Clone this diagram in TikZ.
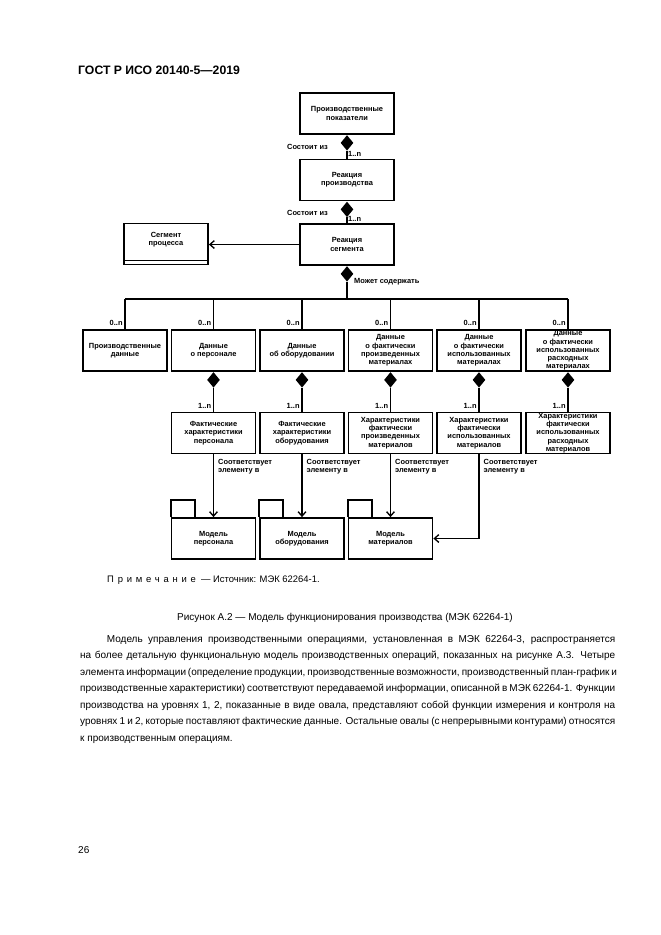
\documentclass[tikz,border=0pt]{standalone}
\usepackage{fontspec}
\setmainfont{Liberation Sans}
\usetikzlibrary{arrows.meta,shapes.geometric}
\begin{document}
\begin{tikzpicture}[x=0.9pt,y=-0.9pt,
  dfont/.style={font=\fontsize{6.7}{7.4}\selectfont\bfseries},
  box/.style={draw, line width=1.6pt, align=center, inner sep=0pt, minimum width=75.6pt, minimum height=36.9pt, dfont},
  cbox/.style={box, minimum width=84.6pt},
  dia/.style={diamond, fill=black, draw=none, inner sep=0pt, minimum width=11.5pt, minimum height=14pt, anchor=north},
  conn/.style={line width=1.2pt},
  arr/.style={conn, -{Straight Barb[length=4pt,width=7pt,line width=1.2pt]}},
  lbl/.style={dfont, inner sep=0pt},
  ptext/.style={inner sep=0pt, font=\fontsize{9}{14.85}\selectfont}]

\useasboundingbox (0,0) rectangle (661,935);
\fill[white] (0,0) rectangle (661,935);

\node[anchor=base west, inner sep=0pt, font=\fontsize{11}{13}\selectfont\bfseries] (hdr) at (78,74) {ГОСТ Р ИСО 20140-5—2019};

% central chain
\node[cbox] (pp) at (347,113.5) {Производственные\\показатели};
\node[cbox] (pr) at (347,180) {Реакция\\производства};
\node[cbox] (sr) at (347,244.5) {Реакция\\сегмента};
\node[box] (sp) at (166,244) {};
\node[lbl, align=center] (spt) at (166,240) {Сегмент\\процесса};
\draw[line width=1.2pt] ([yshift=4.5pt]sp.south west) -- ([yshift=4.5pt]sp.south east);

\node[dia] (d1) at (pp.south) {};
\draw[conn] (d1.south) -- (pr.north);
\node[dia] (d2) at (pr.south) {};
\draw[conn] (d2.south) -- (sr.north);
\node[dia] (d3) at (sr.south) {};

\node[lbl, anchor=east] (l1) at (328,147) {Состоит из};
\node[lbl, anchor=west] (n1) at (348,154) {1..n};
\node[lbl, anchor=east] (l2) at (328,213) {Состоит из};
\node[lbl, anchor=west] (n2) at (348,219) {1..n};
\node[lbl, anchor=west] (l3) at (354,282) {Может содержать};

\draw[arr, line width=1pt] (sr.west) -- (sr.west -| sp.east);

% data row
\node[box] (D1) at (125,350.5) {Производственные\\данные};
\node[box] (D2) at (213.5,350.5) {Данные\\о персонале};
\node[box] (D3) at (302,350.5) {Данные\\об оборудовании};
\node[box] (D4) at (390.5,350.5) {Данные\\о фактически\\произведенных\\материалах};
\node[box] (D5) at (479,350.5) {Данные\\о фактически\\использованных\\материалах};
\node[box] (D6) at (568,350.5) {Данные\\о фактически\\использованных\\расходных\\материалах};

\coordinate (bus) at (0,299);
\draw[conn, line width=1.6pt] (bus -| D1.north) -- (bus -| D6.north);
\draw[conn] (d3.south) -- (d3.south |- bus);
\foreach \n in {1,...,6} {
  \draw[conn] (bus -| D\n.north) -- (D\n.north);
  \node[lbl, anchor=south east] at ([xshift=-2pt,yshift=3pt]D\n.north) {0..n};
}

% property row
\node[box] (P2) at (213.5,433) {Фактические\\характеристики\\персонала};
\node[box] (P3) at (302,433) {Фактические\\характеристики\\оборудования};
\node[box] (P4) at (390.5,433) {Характеристики\\фактически\\произведенных\\материалов};
\node[box] (P5) at (479,433) {Характеристики\\фактически\\использованных\\материалов};
\node[box] (P6) at (568,433) {Характеристики\\фактически\\использованных\\расходных\\материалов};

\foreach \n in {2,...,6} {
  \node[dia] (e\n) at (D\n.south) {};
  \draw[conn] (e\n.south) -- (P\n.north);
  \node[lbl, anchor=south east] at ([xshift=-2pt,yshift=3pt]P\n.north) {1..n};
}

% packages
\node[box] (M1) at (213.5,538.5) {Модель\\персонала};
\node[box] (M2) at (302,538.5) {Модель\\оборудования};
\node[box] (M3) at (390.5,538.5) {Модель\\материалов};
\foreach \m in {1,2,3} {
  \draw[line width=1.6pt] (M\m.north west) -- ++(0,-17) -- ++(24,0) -- ++(0,17);
}

\draw[arr] (P2.south) -- (M1.north);
\draw[arr] (P3.south) -- (M2.north);
\draw[arr] (P4.south) -- (M3.north);
\draw[arr] (P5.south) |- (M3.east);
\foreach \n in {2,...,5} {
  \node[lbl, anchor=north west, align=left] at ([xshift=4pt,yshift=-4pt]P\n.south) {Соответствует\\элементу в};
}

% page text
\node[anchor=base west, inner sep=0pt, font=\fontsize{8.5}{10}\selectfont] (note) at (107,582) {{\addfontfeatures{LetterSpace=40}Примечание}\ \ — Источник: МЭК 62264-1.};
\node[anchor=base, inner sep=0pt, font=\fontsize{9}{11}\selectfont] (cap) at (345,620) {Рисунок А.2 — Модель функционирования производства (МЭК 62264-1)};

\node[ptext, anchor=north west, align=left] (body) at (80,635) {%
\makebox[481.5pt][s]{\hspace*{24pt}Модель управления производственными операциями, установленная в МЭК 62264-3, распространяется}\\
\makebox[481.5pt][s]{на более детальную функциональную модель производственных операций, показанных на рисунке А.3. Четыре}\\
\makebox[481.5pt][s]{элемента информации (определение продукции, производственные возможности, производственный план-график и}\\
\makebox[481.5pt][s]{производственные характеристики) соответствуют передаваемой информации, описанной в МЭК 62264-1. Функции}\\
\makebox[481.5pt][s]{производства на уровнях 1, 2, показанные в виде овала, представляют собой функции измерения и контроля на}\\
\makebox[481.5pt][s]{уровнях 1 и 2, которые поставляют фактические данные. Остальные овалы (с непрерывными контурами) относятся}\\
к производственным операциям.};

\node[anchor=base west, inner sep=0pt, font=\fontsize{9}{11}\selectfont] (pg) at (78,853) {26};
\end{tikzpicture}
\end{document}
